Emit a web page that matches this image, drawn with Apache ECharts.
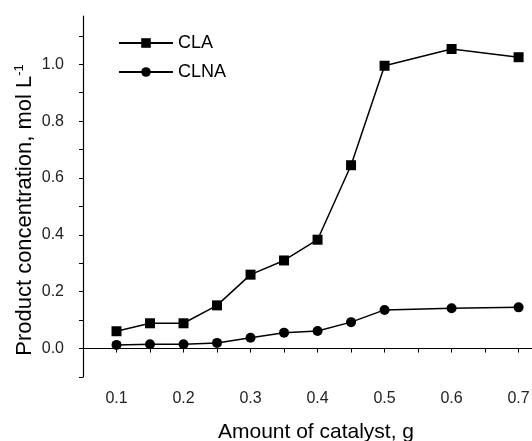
<!DOCTYPE html>
<html><head><meta charset="utf-8">
<script src="https://cdn.jsdelivr.net/npm/echarts@6/dist/echarts.min.js"></script>
<style>html,body{margin:0;padding:0;background:#fff}#c{width:532px;height:441px}</style>
</head><body><div id="c"></div>
<script>
const xValues = [0.1, 0.15, 0.2, 0.25, 0.3, 0.35, 0.4, 0.45, 0.5, 0.6, 0.7];
const claValues = [0.061, 0.089, 0.089, 0.152, 0.26, 0.31, 0.383, 0.645, 0.995, 1.054, 1.025];
const clnaValues = [0.013, 0.015, 0.015, 0.02, 0.038, 0.056, 0.062, 0.093, 0.136, 0.142, 0.145];
const xTickLabels = [0.1, 0.2, 0.3, 0.4, 0.5, 0.6, 0.7];
const xTicks = [0.05, 0.1, 0.15, 0.2, 0.25, 0.3, 0.35, 0.4, 0.45, 0.5, 0.55, 0.6, 0.65, 0.7];
const yTickLabels = [0, 0.2, 0.4, 0.6, 0.8, 1.0];
const yTicks = [-0.1, 0, 0.1, 0.2, 0.3, 0.4, 0.5, 0.6, 0.7, 0.8, 0.9, 1.0, 1.1];

const chart = echarts.init(document.getElementById('c'));
const font = 'Liberation Sans, Arial, sans-serif';
chart.setOption({
  animation: false,
  grid: {left: 83, top: 16, right: 0, bottom: 64, containLabel: false, outerBoundsMode: 'none'},
  legend: {
    left: 113, top: 29, orient: 'vertical', itemGap: 11,
    itemWidth: 54, itemHeight: 12,
    textStyle: {fontFamily: font, fontSize: 18, color: '#000'},
    data: ['CLA', 'CLNA']
  },
  xAxis: {
    type: 'value', min: 0.05, max: 0.72,
    name: 'Amount of catalyst, g', nameLocation: 'middle', nameGap: 45, nameMoveOverlap: false,
    nameTextStyle: {fontFamily: font, fontSize: 21, color: '#000', padding: [0, 0, 0, 17]},
    axisLine: {show: true, lineStyle: {color: '#000', width: 1.2}},
    axisTick: {show: true, inside: false, length: 4, customValues: xTicks, lineStyle: {color: '#000'}},
    axisLabel: {customValues: xTickLabels, fontFamily: font, fontSize: 16, color: '#222', margin: 14,
      formatter: v => v.toFixed(1)},
    splitLine: {show: false}
  },
  yAxis: {
    type: 'value', min: -0.1, max: 1.17,
    name: '{a|Product concentration, mol L}{s|-1}', nameLocation: 'middle', nameGap: 47,
    nameRotate: 90, nameMoveOverlap: false,
    nameTextStyle: {fontFamily: font, fontSize: 22, color: '#000', padding: [0, 27, 0, 0],
      rich: {a: {fontFamily: font, fontSize: 22, color: '#000'},
             s: {fontFamily: font, fontSize: 13, color: '#000', verticalAlign: 'top', padding: [0, 0, 10, 0]}}},
    axisLine: {show: true, lineStyle: {color: '#000', width: 1.2}},
    axisTick: {show: true, inside: false, length: 4, customValues: yTicks, lineStyle: {color: '#000'}},
    axisLabel: {customValues: yTickLabels, fontFamily: font, fontSize: 16, color: '#222', margin: 19,
      formatter: v => v.toFixed(1)},
    splitLine: {show: false}
  },
  series: [
    {name: 'CLA', type: 'line', symbol: 'rect', symbolSize: 10, showAllSymbol: true,
     lineStyle: {color: '#000', width: 1.5}, itemStyle: {color: '#000'},
     data: xValues.map((x, i) => [x, claValues[i]])},
    {name: 'CLNA', type: 'line', symbol: 'circle', symbolSize: 10, showAllSymbol: true,
     lineStyle: {color: '#000', width: 1.5}, itemStyle: {color: '#000'},
     data: xValues.map((x, i) => [x, clnaValues[i]])}
  ]
});
</script></body></html>
